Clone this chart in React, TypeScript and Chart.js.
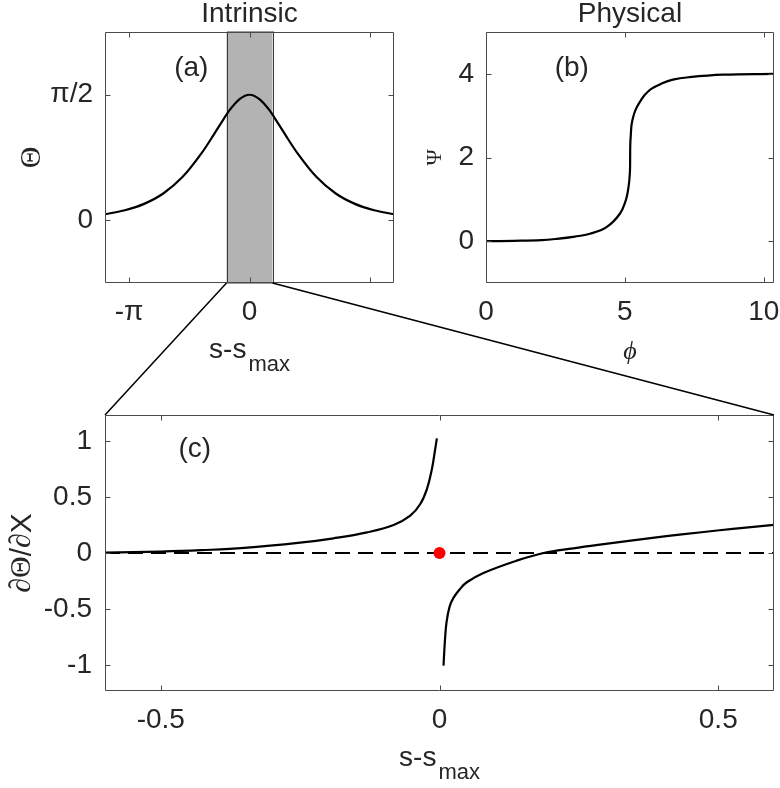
import React, { useEffect, useRef } from "react";
import { Chart, registerables } from "chart.js";

Chart.register(...registerables);

const W = 780;
const H = 788;
const SANS = '"Liberation Sans", Arial, Helvetica, sans-serif';
const SERIF = '"Liberation Serif", "Times New Roman", "DejaVu Serif", serif';
const INK = "#262626";
const BOX = "#4a4a4a";
const TICK = 5;
const Y_AXIS_W = 100; // room reserved left of each plot for y tick labels
const X_AXIS_H = 60; // room reserved under each plot for x tick labels

// Shared zoom window: shaded band in (a) and the x-range of (c)
const ZOOM_RANGE = [-0.6, 0.6];

// (a) Intrinsic profile Θ(s - s_max)
const A_S = [-3.77, -3.25, -2.75, -2.25, -1.75, -1.25, -1.0, -0.75, -0.5, -0.25, 0, 0.25, 0.5, 0.75, 1.0, 1.25, 1.75, 2.25, 2.75, 3.25, 3.77];
const A_THETA = [0.075, 0.125, 0.205, 0.335, 0.54, 0.84, 1.02, 1.21, 1.39, 1.52, 1.571, 1.52, 1.39, 1.21, 1.02, 0.84, 0.54, 0.335, 0.205, 0.125, 0.075];
const A_X_TICKS = [-Math.PI, 0, Math.PI];
const A_X_LABELS = ["-π", "0", ""];
const A_Y_TICKS = [0, Math.PI / 2];
const A_Y_LABELS = ["0", "π/2"];

// (b) Physical profile Ψ(ϕ)
const B_PHI = [0, 1, 2, 2.55, 3.2, 3.74, 4.34, 4.82, 5.03, 5.11, 5.16, 5.185, 5.19, 5.195, 5.215, 5.245, 5.33, 5.43, 5.57, 5.72, 5.95, 6.3, 6.73, 7.33, 8.53, 10.37];
const B_PSI = [0, 0.008, 0.025, 0.056, 0.11, 0.176, 0.335, 0.655, 0.97, 1.2, 1.45, 1.7, 2.0, 2.3, 2.55, 2.8, 3.04, 3.2, 3.36, 3.5, 3.64, 3.76, 3.86, 3.92, 3.98, 4.0];
const B_X_TICKS = [0, 5, 10];
const B_Y_TICKS = [0, 2, 4];

// (c) ∂Θ/∂X near the maximum, two branches either side of the singular point
const C_LEFT_S = [-0.6, -0.5, -0.428, -0.35, -0.25, -0.19, -0.13, -0.0823, -0.0524, -0.0345, -0.0226, -0.0136, -0.0077, -0.0047];
const C_LEFT_D = [0.003, 0.013, 0.025, 0.045, 0.092, 0.131, 0.184, 0.25, 0.333, 0.437, 0.57, 0.749, 0.927, 1.022];
const C_RIGHT_S = [0.0072, 0.0095, 0.0125, 0.018, 0.025, 0.037, 0.049, 0.0788, 0.1385, 0.1867, 0.24, 0.2876, 0.35, 0.407, 0.47, 0.526, 0.6];
const C_RIGHT_D = [-1.004, -0.8, -0.62, -0.48, -0.4, -0.32, -0.261, -0.178, -0.068, 0, 0.042, 0.075, 0.115, 0.15, 0.185, 0.215, 0.25];
const C_ZERO_S = [-0.6, 0.6];
const C_ZERO_D = [0, 0];
const C_MARK_S = [0];
const C_MARK_D = [0];
const C_X_TICKS = [-0.5, 0, 0.5];
const C_Y_TICKS = [-1, -0.5, 0, 0.5, 1];

const pts = (xs: number[], ys: number[]) => xs.map((x, i) => ({ x, y: ys[i] }));

function axis(min: number, max: number, ticks: number[], labels: string[], horizontal: boolean, pad: number) {
  return {
    type: "linear",
    min,
    max,
    grid: { display: false, drawTicks: false },
    border: { display: false },
    afterBuildTicks: (s: any) => {
      s.ticks = ticks.map((v) => ({ value: v }));
    },
    afterFit: (s: any) => {
      if (horizontal) s.height = X_AXIS_H;
      else s.width = Y_AXIS_W;
      s.paddingLeft = 0;
      s.paddingRight = 0;
      s.paddingTop = 0;
      s.paddingBottom = 0;
    },
    ticks: {
      autoSkip: false,
      maxRotation: 0,
      minRotation: 0,
      padding: pad,
      color: INK,
      font: { family: SANS, size: 28 },
      callback: (_v: any, i: number) => labels[i],
    },
  };
}

// Plot box with inward ticks on all four sides
function drawFrame(chart: any, xt: number[], yt: number[]) {
  const { ctx, chartArea } = chart;
  const { left, right, top, bottom } = chartArea;
  const xs = chart.scales.x;
  const ys = chart.scales.y;
  ctx.save();
  ctx.strokeStyle = BOX;
  ctx.lineWidth = 1;
  const l = Math.round(left) + 0.5;
  const r = Math.round(right) - 0.5;
  const t = Math.round(top) + 0.5;
  const b = Math.round(bottom) - 0.5;
  ctx.beginPath();
  ctx.rect(l, t, r - l, b - t);
  for (const v of xt) {
    const p = Math.round(xs.getPixelForValue(v)) + 0.5;
    ctx.moveTo(p, b);
    ctx.lineTo(p, b - TICK);
    ctx.moveTo(p, t);
    ctx.lineTo(p, t + TICK);
  }
  for (const v of yt) {
    const p = Math.round(ys.getPixelForValue(v)) + 0.5;
    ctx.moveTo(l, p);
    ctx.lineTo(l + TICK, p);
    ctx.moveTo(r, p);
    ctx.lineTo(r - TICK, p);
  }
  ctx.stroke();
  ctx.restore();
}

function drawText(ctx: any, text: string, x: number, y: number, font: string, align = "center", baseline = "middle") {
  ctx.save();
  ctx.fillStyle = INK;
  ctx.font = font;
  ctx.textAlign = align;
  ctx.textBaseline = baseline;
  ctx.fillText(text, x, y);
  ctx.restore();
}

// Rotated axis title made of runs in different fonts
function drawRotated(ctx: any, parts: [string, string][], cx: number, cy: number) {
  ctx.save();
  ctx.fillStyle = INK;
  ctx.translate(cx, cy);
  ctx.rotate(-Math.PI / 2);
  ctx.textBaseline = "middle";
  ctx.textAlign = "left";
  let total = 0;
  const widths = parts.map(([t, f]) => {
    ctx.font = f;
    const w = ctx.measureText(t).width;
    total += w;
    return w;
  });
  let x = -total / 2;
  parts.forEach(([t, f], i) => {
    ctx.font = f;
    ctx.fillText(t, x, 0);
    x += widths[i];
  });
  ctx.restore();
}

// "s-s" with a "max" subscript
function drawSubTitle(ctx: any, cx: number, baseline: number) {
  ctx.save();
  ctx.fillStyle = INK;
  ctx.textAlign = "left";
  ctx.textBaseline = "alphabetic";
  const mainFont = `28px ${SANS}`;
  const subFont = `22px ${SANS}`;
  ctx.font = mainFont;
  const w1 = ctx.measureText("s-s").width;
  ctx.font = subFont;
  const w2 = ctx.measureText("max").width;
  const gap = 2;
  const x0 = cx - (w1 + gap + w2) / 2;
  ctx.font = mainFont;
  ctx.fillText("s-s", x0, baseline);
  ctx.font = subFont;
  ctx.fillText("max", x0 + w1 + gap, baseline + 13.5);
  ctx.restore();
}

const curve = (data: any[]) => ({
  data,
  borderColor: "#000",
  borderWidth: 2.2,
  pointRadius: 0,
  cubicInterpolationMode: "monotone",
  fill: false,
});

// Parametric spline, smooth through near-vertical stretches
const smoothCurve = (data: any[]) => ({
  data,
  borderColor: "#000",
  borderWidth: 2.2,
  pointRadius: 0,
  tension: 0.4,
  fill: false,
});

// Plot area given in page pixels; axis boxes sit just outside it
function baseOptions(area: { left: number; top: number; right: number; bottom: number }, scales: any) {
  return {
    responsive: false,
    animation: false,
    devicePixelRatio: 1,
    events: [],
    layout: {
      padding: {
        left: area.left - Y_AXIS_W,
        top: area.top,
        right: W - area.right,
        bottom: H - area.bottom - X_AXIS_H,
      },
    },
    plugins: { legend: { display: false }, tooltip: { enabled: false }, title: { display: false } },
    scales,
  };
}

function configA(): any {
  return {
    type: "line",
    data: { datasets: [curve(pts(A_S, A_THETA))] },
    options: baseOptions(
      { left: 105, top: 32, right: 394, bottom: 283 },
      {
        x: axis(-1.2 * Math.PI, 1.2 * Math.PI, A_X_TICKS, A_X_LABELS, true, 12),
        y: axis(-Math.PI / 4, (3 * Math.PI) / 4, A_Y_TICKS, A_Y_LABELS, false, 12),
      }
    ),
    plugins: [
      {
        id: "panelA",
        beforeDatasetsDraw(chart: any) {
          const { ctx, chartArea } = chart;
          const xs = chart.scales.x;
          const x0 = xs.getPixelForValue(ZOOM_RANGE[0]);
          const x1 = xs.getPixelForValue(ZOOM_RANGE[1]);
          ctx.save();
          ctx.fillStyle = "#b3b3b3";
          ctx.fillRect(x0, chartArea.top, x1 - x0, chartArea.bottom - chartArea.top);
          ctx.strokeStyle = "#3a3a3a";
          ctx.lineWidth = 1;
          ctx.strokeRect(Math.round(x0) + 0.5, chartArea.top, Math.round(x1 - x0), chartArea.bottom - chartArea.top);
          ctx.restore();
        },
        afterDraw(chart: any) {
          const { ctx, chartArea } = chart;
          drawFrame(chart, A_X_TICKS, A_Y_TICKS);
          const cx = (chartArea.left + chartArea.right) / 2;
          const cy = (chartArea.top + chartArea.bottom) / 2;
          drawText(ctx, "Intrinsic", cx, chartArea.top - 10, `28px ${SANS}`, "center", "alphabetic");
          drawText(ctx, "(a)", chart.scales.x.getPixelForValue(-1.52), chart.scales.y.getPixelForValue(1.9), `28px ${SANS}`);
          drawRotated(ctx, [["Θ", `30px ${SERIF}`]], chartArea.left - 73, cy);
          drawSubTitle(ctx, cx, chartArea.bottom + 74.5);
        },
      },
    ],
  };
}

function configB(): any {
  return {
    type: "line",
    data: { datasets: [smoothCurve(pts(B_PHI, B_PSI))] },
    options: baseOptions(
      { left: 486, top: 32, right: 774, bottom: 283 },
      {
        x: axis(0, 10.37, B_X_TICKS, B_X_TICKS.map(String), true, 12),
        y: axis(-1, 5, B_Y_TICKS, B_Y_TICKS.map(String), false, 12),
      }
    ),
    plugins: [
      {
        id: "panelB",
        afterDraw(chart: any) {
          const { ctx, chartArea } = chart;
          drawFrame(chart, B_X_TICKS, B_Y_TICKS);
          const cx = (chartArea.left + chartArea.right) / 2;
          const cy = (chartArea.top + chartArea.bottom) / 2;
          drawText(ctx, "Physical", cx, chartArea.top - 10, `28px ${SANS}`, "center", "alphabetic");
          drawText(ctx, "(b)", chart.scales.x.getPixelForValue(3.09), chart.scales.y.getPixelForValue(4.14), `28px ${SANS}`);
          drawRotated(ctx, [["Ψ", `22px ${SERIF}`]], chartArea.left - 51, cy);
          drawText(ctx, "ϕ", cx, chartArea.bottom + 69, `italic 26px ${SERIF}`);
        },
      },
    ],
  };
}

function configC(chartA: any): any {
  return {
    type: "line",
    data: {
      datasets: [
        {
          data: pts(C_MARK_S, C_MARK_D),
          showLine: false,
          pointRadius: 6,
          pointBackgroundColor: "#ff0000",
          pointBorderColor: "#ff0000",
          pointBorderWidth: 0,
        },
        smoothCurve(pts(C_LEFT_S, C_LEFT_D)),
        smoothCurve(pts(C_RIGHT_S, C_RIGHT_D)),
        {
          data: pts(C_ZERO_S, C_ZERO_D),
          borderColor: "#000",
          borderWidth: 2,
          borderDash: [15, 8],
          pointRadius: 0,
        },
      ],
    },
    options: baseOptions(
      { left: 105, top: 415, right: 774, bottom: 691 },
      {
        x: axis(ZOOM_RANGE[0], ZOOM_RANGE[1], C_X_TICKS, C_X_TICKS.map(String), true, 12),
        y: axis(-1.23, 1.23, C_Y_TICKS, C_Y_TICKS.map(String), false, 13),
      }
    ),
    plugins: [
      {
        id: "panelC",
        afterDraw(chart: any) {
          const { ctx, chartArea } = chart;
          drawFrame(chart, C_X_TICKS, C_Y_TICKS);
          const cx = (chartArea.left + chartArea.right) / 2;
          const cy = (chartArea.top + chartArea.bottom) / 2;
          drawText(ctx, "(c)", chart.scales.x.getPixelForValue(-0.439), chart.scales.y.getPixelForValue(0.927), `28px ${SANS}`);
          drawRotated(
            ctx,
            [
              ["∂Θ", `30px ${SERIF}`],
              ["/", `30px ${SANS}`],
              ["∂", `30px ${SERIF}`],
              ["X", `30px ${SANS}`],
            ],
            chartArea.left - 82.5,
            cy
          );
          drawSubTitle(ctx, cx, chartArea.bottom + 74.5);

          // Zoom connectors from the shaded band of (a) to the corners of this panel
          const ax = chartA.scales.x;
          const aBottom = chartA.chartArea.bottom;
          ctx.save();
          ctx.strokeStyle = "#000";
          ctx.lineWidth = 1.5;
          ctx.beginPath();
          ctx.moveTo(ax.getPixelForValue(ZOOM_RANGE[0]), aBottom);
          ctx.lineTo(chartArea.left, chartArea.top);
          ctx.moveTo(ax.getPixelForValue(ZOOM_RANGE[1]), aBottom);
          ctx.lineTo(chartArea.right, chartArea.top);
          ctx.stroke();
          ctx.restore();
        },
      },
    ],
  };
}

export default function App() {
  const refA = useRef<HTMLCanvasElement>(null);
  const refB = useRef<HTMLCanvasElement>(null);
  const refC = useRef<HTMLCanvasElement>(null);

  useEffect(() => {
    const a = new Chart(refA.current as HTMLCanvasElement, configA());
    const b = new Chart(refB.current as HTMLCanvasElement, configB());
    const c = new Chart(refC.current as HTMLCanvasElement, configC(a));
    return () => {
      c.destroy();
      b.destroy();
      a.destroy();
    };
  }, []);

  const layer: React.CSSProperties = { position: "absolute", left: 0, top: 0, width: W, height: H };
  return (
    <div style={{ position: "absolute", left: 0, top: 0, width: W, height: H, background: "#fff", overflow: "hidden" }}>
      <canvas ref={refA} width={W} height={H} style={layer} />
      <canvas ref={refB} width={W} height={H} style={layer} />
      <canvas ref={refC} width={W} height={H} style={layer} />
    </div>
  );
}
